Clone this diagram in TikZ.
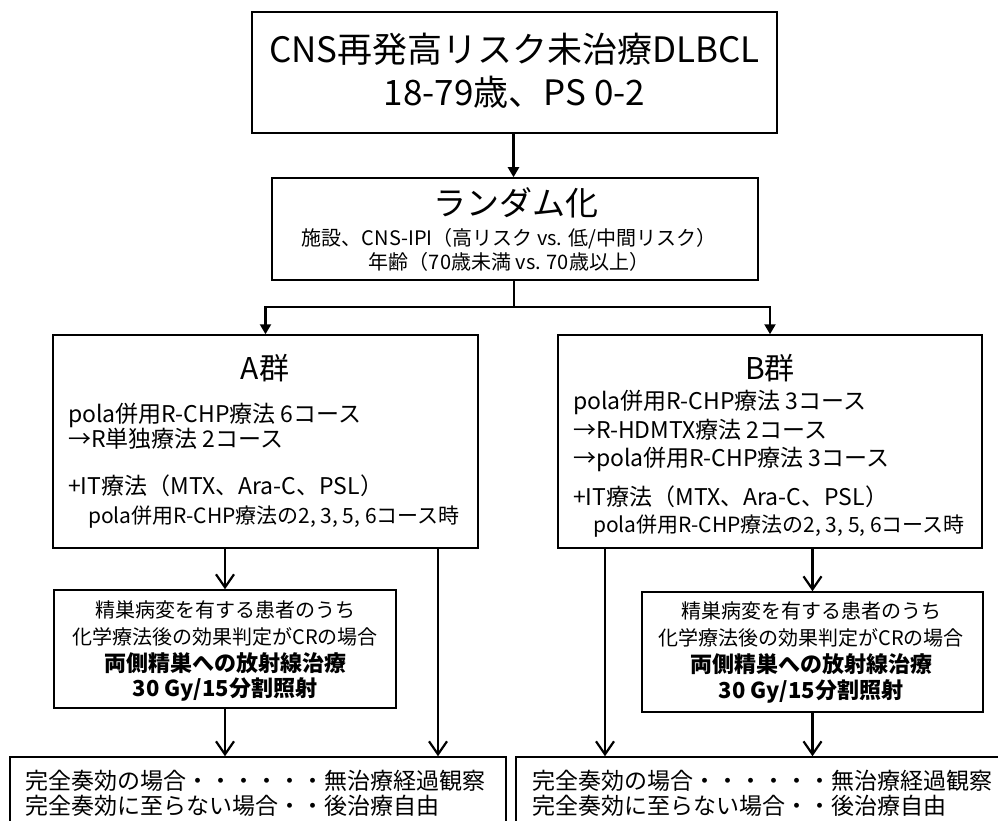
\documentclass[tikz,border=0pt]{standalone}
\usepackage{fontspec}
\setmainfont{Noto Sans CJK JP}
\usetikzlibrary{arrows.meta}
\newcommand{\fs}[1]{\fontsize{#1}{#1}\selectfont}
\tikzset{
  box/.style={draw=black, line width=1.5pt, fill=white, inner sep=0pt},
  txt/.style={inner sep=0pt, anchor=base},
  txtw/.style={inner sep=0pt, anchor=base west},
  conn/.style={line width=2.2pt},
  filledarrow/.style={conn, -{Triangle[length=10pt,width=11pt]}},
  openarrow/.style={conn, -{Straight Barb[length=13pt,width=18pt,line width=2.2pt]}},
}
\begin{document}
\begin{tikzpicture}[x=1pt,y=-1pt]
\clip (0,0) rectangle (998,821);
\fill[white] (0,0) rectangle (998,821);

% boxes
\node[box, line width=2pt, minimum width=525pt, minimum height=121pt] (top) at (514.5,72.5) {};
\node[box, minimum width=486pt, minimum height=102pt] (rand) at (515,229) {};
\node[box, minimum width=425pt, minimum height=213pt] (A) at (265.5,441.5) {};
\node[box, minimum width=424pt, minimum height=213pt] (B) at (770,441.5) {};
\node[box, minimum width=342pt, minimum height=118pt] (Asub) at (225,649) {};
\node[box, minimum width=341pt, minimum height=120pt] (Bsub) at (812.5,652) {};
\node[box, minimum width=496pt, minimum height=100pt] (Abot) at (258,807) {};
\node[box, minimum width=510pt, minimum height=100pt] (Bbot) at (771,807) {};

% top texts
\node[txt, font=\fs{35}] (t1) at (514.5,63) {CNS再発高リスク未治療DLBCL};
\node[txt, font=\fs{35}] (t2) at (514.5,106) {18-79歳、PS 0-2};

% randomization
\node[txt, font=\fs{33}] (r1) at (516,215) {ランダム化};
\node[txt, font=\fs{20}] (r2) at (509,245) {施設、CNS-IPI（高リスク vs. 低/中間リスク）};
\node[txt, font=\fs{20}] (r3) at (509,269) {年齢（70歳未満 vs. 70歳以上）};

% A group
\node[txt, font=\fs{30}] (a0) at (265,379) {A群};
\node[txtw, font=\fs{23}] (a1) at (68,422) {pola併用R-CHP療法 6コース};
\node[txtw, font=\fs{23}] (a2) at (68,447) {→R単独療法 2コース};
\node[txtw, font=\fs{23}] (a3) at (68,494) {+IT療法（MTX、Ara-C、PSL）};
\node[txtw, font=\fs{21}] (a4) at (88,523) {pola併用R-CHP療法の2, 3, 5, 6コース時};

% B group
\node[txt, font=\fs{30}] (b0) at (770,379) {B群};
\node[txtw, font=\fs{23}] (b1) at (573,409) {pola併用R-CHP療法 3コース};
\node[txtw, font=\fs{23}] (b2) at (573,438) {→R-HDMTX療法 2コース};
\node[txtw, font=\fs{23}] (b3) at (573,466) {→pola併用R-CHP療法 3コース};
\node[txtw, font=\fs{23}] (b4) at (573,505) {+IT療法（MTX、Ara-C、PSL）};
\node[txtw, font=\fs{21}] (b5) at (593,532) {pola併用R-CHP療法の2, 3, 5, 6コース時};

% A sub
\node[txt, font=\fs{20}] (as1) at (225,617) {精巣病変を有する患者のうち};
\node[txt, font=\fs{20}] (as2) at (225,644) {化学療法後の効果判定がCRの場合};
\node[txt, font=\fs{22}\bfseries] (as3) at (225,671) {両側精巣への放射線治療};
\node[txt, font=\fs{22}\bfseries] (as4) at (225,696) {30 Gy/15分割照射};

% B sub
\node[txt, font=\fs{20}] (bs1) at (811,618) {精巣病変を有する患者のうち};
\node[txt, font=\fs{20}] (bs2) at (811,645) {化学療法後の効果判定がCRの場合};
\node[txt, font=\fs{22}\bfseries] (bs3) at (811,672) {両側精巣への放射線治療};
\node[txt, font=\fs{22}\bfseries] (bs4) at (811,698) {30 Gy/15分割照射};

% bottom
\node[txtw, font=\fs{23}] (ab1) at (25,789) {完全奏効の場合・・・・・・無治療経過観察};
\node[txtw, font=\fs{23}] (ab2) at (25,814) {完全奏効に至らない場合・・後治療自由};
\node[txtw, font=\fs{23}] (bb1) at (532,789) {完全奏効の場合・・・・・・無治療経過観察};
\node[txtw, font=\fs{23}] (bb2) at (532,814) {完全奏効に至らない場合・・後治療自由};

% connectors
\draw[filledarrow] (top.south -| 513.5,0) -- (rand.north -| 513.5,0);
\coordinate (split) at (514,307);
\draw[conn] (rand.south -| split) -- (split);
\draw[filledarrow] (split) -| (A.north);
\draw[filledarrow] (split) -| (B.north);

\draw[openarrow] (A.south -| Asub.north) -- (Asub.north);
\coordinate (aR) at (438,548);
\draw[openarrow] (aR) -- (aR |- Abot.north);
\draw[openarrow] (Asub.south) -- (Asub.south |- Abot.north);

\coordinate (bL) at (605,548);
\draw[openarrow] (bL) -- (bL |- Bbot.north);
\draw[openarrow] (B.south -| Bsub.north) -- (Bsub.north);
\draw[openarrow] (Bsub.south) -- (Bsub.south |- Bbot.north);
\end{tikzpicture}
\end{document}
